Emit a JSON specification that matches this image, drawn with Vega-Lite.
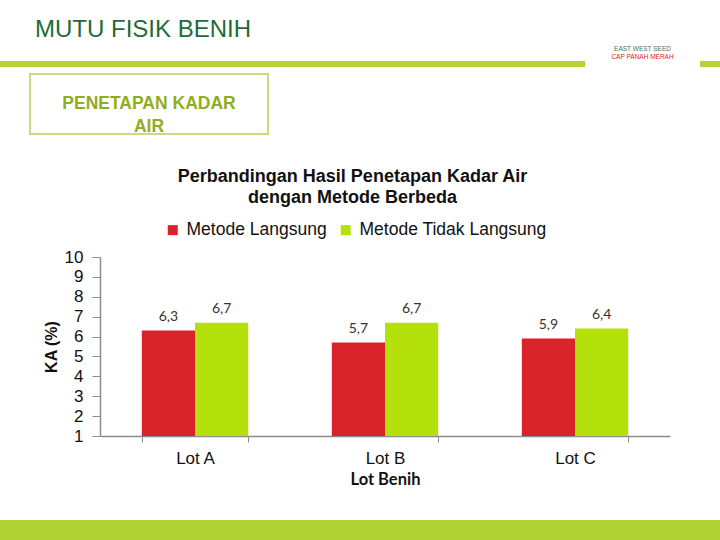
{
  "$schema": "https://vega.github.io/schema/vega-lite/v6.json",
  "background": "white",
  "padding": {"left": 0, "top": 18, "right": 0, "bottom": 0},
  "title": {"text": "MUTU FISIK BENIH", "anchor": "start", "frame": "group", "dx": 35, "fontSize": 24, "font": "Liberation Sans", "fontWeight": "normal", "color": "#1f6b3a", "offset": 4},
  "config": {
    "view": {"stroke": null},
    "font": "Liberation Sans",
    "locale": {"number": {"decimal": ",", "thousands": ".", "grouping": [3], "currency": ["", ""]}}
  },
  "resolve": {"legend": {"color": "independent"}, "scale": {"color": "independent"}},
  "spacing": 6,
  "vconcat": [
    {
      "spacing": 0,
      "bounds": "flush",
      "hconcat": [
        {"width": 585, "height": 6, "view": {"fill": "#b5d334"}, "data": {"values": []}, "mark": "text", "encoding": {}},
        {
          "width": 115, "height": 6,
          "title": {"text": "EAST WEST SEED", "subtitle": "CAP PANAH MERAH", "fontSize": 6.5, "fontWeight": "normal", "font": "Liberation Sans", "color": "#4a6e66", "subtitleFontSize": 6.5, "subtitleColor": "#d8232a", "subtitlePadding": 1, "anchor": "middle", "offset": 1},
          "data": {"values": []}, "mark": "text", "encoding": {}
        },
        {"width": 20, "height": 6, "view": {"fill": "#b5d334"}, "data": {"values": []}, "mark": "text", "encoding": {}}
      ]
    },
    {
      "spacing": 0,
      "bounds": "flush",
      "hconcat": [
        {"width": 30, "height": 60, "data": {"values": []}, "mark": "text", "encoding": {}},
        {
          "width": 238, "height": 60,
          "view": {"stroke": "#cbd982", "strokeWidth": 2},
          "data": {"values": [{"label": "PENETAPAN KADAR\nAIR"}]},
          "mark": {"type": "text", "lineBreak": "\n", "fontSize": 17.5, "fontWeight": "bold", "font": "Liberation Sans", "color": "#8fae1b", "lineHeight": 23, "dy": 0},
          "encoding": {"text": {"field": "label", "type": "nominal"}}
        }
      ]
    },
    {"width": 720, "height": 19, "data": {"values": []}, "mark": "text", "encoding": {}},
    {
      "spacing": 0,
      "bounds": "flush",
      "resolve": {"legend": {"color": "independent"}, "scale": {"color": "independent"}},
      "hconcat": [
        {"width": 100, "height": 10, "data": {"values": []}, "mark": "text", "encoding": {}},
        {
          "width": 570,
          "height": 179,
          "title": {"text": ["Perbandingan Hasil Penetapan Kadar Air", "dengan Metode Berbeda"], "fontSize": 18, "fontWeight": "bold", "font": "Liberation Sans", "color": "#111111", "anchor": "middle", "frame": "bounds", "lineHeight": 21, "offset": 14, "dx": -4},
          "data": {"values": [
            {"lot": "Lot A", "metode": "Metode Langsung", "ka": 6.3},
            {"lot": "Lot A", "metode": "Metode Tidak Langsung", "ka": 6.7},
            {"lot": "Lot B", "metode": "Metode Langsung", "ka": 5.7},
            {"lot": "Lot B", "metode": "Metode Tidak Langsung", "ka": 6.7},
            {"lot": "Lot C", "metode": "Metode Langsung", "ka": 5.9},
            {"lot": "Lot C", "metode": "Metode Tidak Langsung", "ka": 6.4}
          ]},
          "encoding": {
            "x": {
              "field": "lot", "type": "nominal", "title": "Lot Benih",
              "scale": {"paddingInner": 0.44, "paddingOuter": 0.22},
              "axis": {"labelAngle": 0, "labelFontSize": 17, "labelFont": "Liberation Sans", "labelColor": "#111111", "labelPadding": 8, "tickBand": "extent", "tickSize": 6, "tickColor": "#8c8c8c", "domainColor": "#8c8c8c", "domainWidth": 1.5, "titleFont": "Lato", "titleFontSize": 16.5, "titleFontWeight": "bold", "titleColor": "#111111", "titlePadding": 5}
            },
            "xOffset": {"field": "metode", "type": "nominal", "sort": ["Metode Langsung", "Metode Tidak Langsung"]},
            "y": {
              "field": "ka", "type": "quantitative", "title": "KA (%)",
              "scale": {"domain": [1, 10], "zero": false, "nice": false},
              "axis": {"values": [1, 2, 3, 4, 5, 6, 7, 8, 9, 10], "grid": false, "labelFontSize": 17, "labelFont": "Liberation Sans", "labelColor": "#111111", "labelPadding": 9, "tickSize": 8, "tickColor": "#8c8c8c", "domainColor": "#8c8c8c", "domainWidth": 1.5, "titleFont": "Liberation Sans", "titleFontSize": 16, "titleFontWeight": "bold", "titleColor": "#111111", "titlePadding": 5}
            }
          },
          "layer": [
            {
              "mark": {"type": "bar"},
              "encoding": {
                "y2": {"datum": 1},
                "color": {
                  "field": "metode", "type": "nominal",
                  "scale": {"domain": ["Metode Langsung", "Metode Tidak Langsung"], "range": ["#d8232a", "#b4e00b"]},
                  "legend": {"orient": "none", "legendX": 64, "legendY": -36, "direction": "horizontal", "title": null, "symbolType": "square", "symbolSize": 100, "symbolStrokeWidth": 0, "labelFontSize": 17.5, "labelFont": "Liberation Sans", "labelColor": "#111111", "labelOffset": 5, "labelLimit": 400, "columnPadding": 10}
                }
              }
            },
            {
              "mark": {"type": "text", "dy": -14, "font": "Lato", "fontSize": 14, "color": "#333333"},
              "encoding": {"text": {"field": "ka", "type": "quantitative", "format": ".1f"}}
            }
          ]
        }
      ]
    },
    {"width": 720, "height": 20, "data": {"values": []}, "mark": "text", "encoding": {}},
    {"width": 720, "height": 20, "view": {"fill": "#b3d236"}, "data": {"values": []}, "mark": "text", "encoding": {}}
  ]
}
